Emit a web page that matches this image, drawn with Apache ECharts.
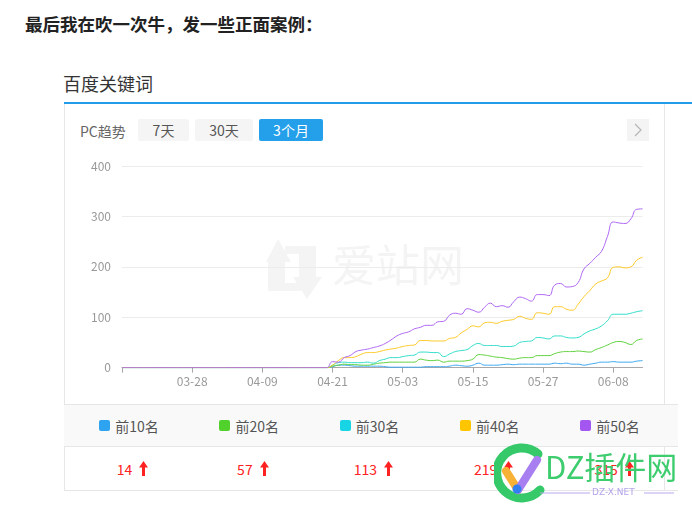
<!DOCTYPE html>
<html>
<head>
<meta charset="utf-8">
<script src="https://cdn.jsdelivr.net/npm/echarts@6/dist/echarts.min.js"></script>
<style>
  html, body { margin:0; padding:0; background:#fff; width:692px; height:516px; overflow:hidden; }
  body { position:relative; font-family:"Noto Sans CJK SC","Microsoft YaHei",sans-serif; }
  .abs { position:absolute; }
  #heading { left:25px; top:14px; font-size:17.5px; line-height:19px; font-weight:bold; color:#222; white-space:nowrap; }
  #title { left:63px; top:73px; font-size:18px; line-height:20px; color:#333; white-space:nowrap; }
  #blueline { left:64px; top:102px; width:628px; height:2px; background:#229be8; }
  #lborder { left:64px; top:104px; width:1px; height:387px; background:#e6e6e6; }
  #rborder { left:664px; top:104px; width:1px; height:387px; background:#e6e6e6; }
  #band { left:64px; top:404px; width:614px; height:43px; background:#f9f9f9; border-top:1px solid #e6e6e6; border-bottom:1px solid #e6e6e6; box-sizing:border-box; }
  #bottom { left:64px; top:490px; width:614px; height:1px; background:#e6e6e6; }
  #pc { left:80px; top:121px; font-size:14px; line-height:20px; color:#666; white-space:nowrap; }
  .btn { top:119px; height:22px; line-height:22px; font-size:14px; text-align:center; border-radius:2px; background:#f5f5f5; color:#555; white-space:nowrap; }
  .btn.on { background:#24a0ea; color:#fff; }
  #next { left:627px; top:119px; width:22px; height:22px; background:#f4f4f4; }
  .leg { top:404px; height:43px; width:120px; display:flex; align-items:center; justify-content:center; font-size:14px; color:#555; white-space:nowrap; }
  .leg i { display:inline-block; width:11px; height:11px; border-radius:2px; margin-right:5px; }
  .val { top:447px; height:43px; width:120px; display:flex; align-items:center; justify-content:center; font-size:14px; color:#f22; white-space:nowrap; }
  .val svg { margin-left:7px; }
  #chart { left:0; top:0; width:692px; height:516px; }
  #dz { left:494px; top:440px; width:198px; height:76px; }
  #dztext { left:545px; top:448px; font-size:31px; line-height:36px; color:#3dcc6e; white-space:nowrap; font-family:"Noto Sans CJK SC",sans-serif; }
  #dznet { left:592px; top:487px; font-size:9px; line-height:11px; color:#b3a3ea; white-space:nowrap; font-family:"DejaVu Sans",sans-serif; }
</style>
</head>
<body>
<div id="heading" class="abs">最后我在吹一次牛，发一些正面案例：</div>
<div id="title" class="abs">百度关键词</div>
<div id="blueline" class="abs"></div>
<div id="lborder" class="abs"></div>
<div id="rborder" class="abs"></div>
<div id="band" class="abs"></div>
<div id="bottom" class="abs"></div>
<div id="pc" class="abs">PC趋势</div>
<div class="abs btn" style="left:138px;width:51px;">7天</div>
<div class="abs btn" style="left:195px;width:58px;">30天</div>
<div class="abs btn on" style="left:259px;width:64px;">3个月</div>
<div id="next" class="abs"><svg width="22" height="22"><polyline points="8,5 14,11 8,17" fill="none" stroke="#b5b5b5" stroke-width="1.2"/></svg></div>
<div id="legend"></div>
<div id="values"></div>
<div id="chart" class="abs"></div>
<svg id="dz" class="abs" viewBox="0 0 198 76">
  <path d="M 44 14 A 25 25 0 1 0 46 50" fill="none" stroke="#35c96a" stroke-width="9" stroke-linecap="round"/>
  <line x1="12" y1="31" x2="24" y2="50" stroke="#f7b236" stroke-width="8" stroke-linecap="round"/>
  <line x1="24" y1="50" x2="43" y2="20" stroke="#a77ff0" stroke-width="8" stroke-linecap="round"/>
  <circle cx="23" cy="49" r="4.5" fill="#2f7ff0"/>
  <line x1="46" y1="53" x2="96" y2="53" stroke="#b9a8ee" stroke-width="1"/>
  <line x1="150" y1="53" x2="180" y2="53" stroke="#b9a8ee" stroke-width="1"/>
</svg>
<div id="dztext" class="abs">DZ插件网</div>
<div id="dznet" class="abs">DZ-X.NET</div>
<script>
const categories = [
"03-16","03-17","03-18","03-19","03-20","03-21","03-22","03-23","03-24","03-25","03-26","03-27","03-28","03-29","03-30","03-31",
"04-01","04-02","04-03","04-04","04-05","04-06","04-07","04-08","04-09","04-10","04-11","04-12","04-13","04-14","04-15",
"04-16","04-17","04-18","04-19","04-20","04-21","04-22","04-23","04-24","04-25","04-26","04-27","04-28","04-29","04-30",
"05-01","05-02","05-03","05-04","05-05","05-06","05-07","05-08","05-09","05-10","05-11","05-12","05-13","05-14","05-15",
"05-16","05-17","05-18","05-19","05-20","05-21","05-22","05-23","05-24","05-25","05-26","05-27","05-28","05-29","05-30","05-31",
"06-01","06-02","06-03","06-04","06-05","06-06","06-07","06-08","06-09","06-10","06-11","06-12","06-13"];

const top10 = [0,0,0,0,0,0,0,0,0,0,0,0,0,0,0,0,0,0,0,0,0,0,0,0,0,0,0,0,0,0,0,0,0,0,0,0,
2,5,5,4,3,3,3,3,3,2, 1,1,1,1,1,1,2,2,2,2, 3,5,4,3,5,9,5,5,5,6, 7,6,7,7,7,7,7,7,9,8, 9,7,7,5,7,9,11,11,12,11, 11,11,13,14];
const top20 = [0,0,0,0,0,0,0,0,0,0,0,0,0,0,0,0,0,0,0,0,0,0,0,0,0,0,0,0,0,0,0,0,0,0,0,0,
3,5,7,6,6,5,5,7,9,10, 11,11,11,11,11,17,15,14,15,11, 13,13,13,14,17,26,25,23,21,20, 18,17,19,20,20,24,24,24,28,31, 32,32,33,32,31,36,40,45,50,52, 50,46,54,57];
const top30 = [0,0,0,0,0,0,0,0,0,0,0,0,0,0,0,0,0,0,0,0,0,0,0,0,0,0,0,0,0,0,0,0,0,0,0,0,
5,10,11,10,10,10,11,9,14,17, 20,20,22,24,25,31,31,30,30,22, 27,32,34,36,44,48,44,44,44,42, 42,43,50,52,53,60,59,57,63,63, 60,59,60,67,73,77,83,93,106,106, 106,108,111,113];
const top40 = [0,0,0,0,0,0,0,0,0,0,0,0,0,0,0,0,0,0,0,0,0,0,0,0,0,0,0,0,0,0,0,0,0,0,0,0,
5,14,20,20,22,27,30,30,32,35, 37,39,42,44,45,54,54,53,53,53, 58,60,69,76,83,81,89,90,88,92, 94,96,102,98,96,109,108,106,121,121, 116,114,126,141,153,166,172,178,199,200, 198,200,213,219];
const top50 = [0,0,0,0,0,0,0,0,0,0,0,0,0,0,0,0,0,0,0,0,0,0,0,0,0,0,0,0,0,0,0,0,0,0,0,0,
12,11,20,24,32,35,37,40,43,48, 55,63,68,71,77,80,84,84,91,92, 104,108,106,117,114,110,120,128,121,123, 120,131,140,137,132,145,145,143,164,167, 160,161,169,196,207,219,231,260,289,287, 286,295,314,315];

const seriesNames = ["前10名","前20名","前30名","前40名","前50名"];
const latestValues = [14,57,113,219,315];
const yTicks = [0,100,200,300,400];

const legendColors = ["#2ea3ef","#50d12b","#17d5e5","#ffc600","#a356f0"];
const lineColors = ["#3aa6f0","#5cd13a","#30dcc8","#ffc927","#ae66f2"];
const allData = [top10, top20, top30, top40, top50];

const legEl = document.getElementById('legend');
const valEl = document.getElementById('values');
seriesNames.forEach((n, k) => {
  const d = document.createElement('div');
  d.className = 'abs leg';
  d.style.left = (69 + 120.25 * k) + 'px';
  d.innerHTML = '<i style="background:' + legendColors[k] + '"></i>' + n;
  legEl.appendChild(d);
  const v = document.createElement('div');
  v.className = 'abs val';
  v.style.left = (72.5 + 120.4 * k) + 'px';
  v.innerHTML = latestValues[k] + '<svg width="9" height="15" viewBox="0 0 9 15"><polygon points="0,6.5 4.5,0 9,6.5" fill="#f22"/><rect x="3" y="5.5" width="3" height="9.5" fill="#f22"/></svg>';
  valEl.appendChild(v);
});

const chart = echarts.init(document.getElementById('chart'), null, {renderer: 'canvas'});
const wm = '#f4f4f4';
chart.setOption({
  animation: false,
  grid: { left: 122, top: 166, right: 49.5, bottom: 148.3, containLabel: false },
  xAxis: {
    type: 'category',
    data: categories,
    boundaryGap: false,
    axisLine: { lineStyle: { color: '#a8a8a8' } },
    axisTick: { length: 5, lineStyle: { color: '#a8a8a8' }, interval: (i) => i % 12 === 0 },
    axisLabel: { color: '#999', fontSize: 12, margin: 8, interval: (i) => i % 12 === 0 && i > 0,
      fontFamily: 'Noto Sans CJK SC, sans-serif' },
    splitLine: { show: false }
  },
  yAxis: {
    type: 'value',
    min: yTicks[0], max: yTicks[yTicks.length - 1], interval: 100,
    axisLine: { show: false },
    axisTick: { show: false },
    axisLabel: { color: '#999', fontSize: 12, margin: 11, fontFamily: 'Noto Sans CJK SC, sans-serif' },
    splitLine: { lineStyle: { color: '#ececec' } }
  },
  graphic: [
    { type: 'polygon', silent: true, z: 0, shape: { points: [[266,262],[278,239],[291,262],[285,262],[285,283],[301,283],[301,291],[268,291],[268,262]] }, style: { fill: wm } },
    { type: 'polygon', silent: true, z: 0, shape: { points: [[285,246],[316,246],[316,277],[322,277],[307,299],[293,277],[299,277],[299,254],[285,254]] }, style: { fill: wm } },
    { type: 'text', silent: true, z: 0, x: 332, y: 243, style: { text: '爱站网', fill: wm, fontSize: 44, fontFamily: 'Noto Sans CJK SC', verticalAlign: 'top' } }
  ],
  series: seriesNames.map((n, k) => ({
    name: n,
    type: 'line',
    data: allData[k],
    smooth: true,
    symbol: 'none',
    lineStyle: { width: 1, color: lineColors[k] },
    itemStyle: { color: lineColors[k] },
    z: 2 + k
  }))
});
</script>
</body>
</html>
